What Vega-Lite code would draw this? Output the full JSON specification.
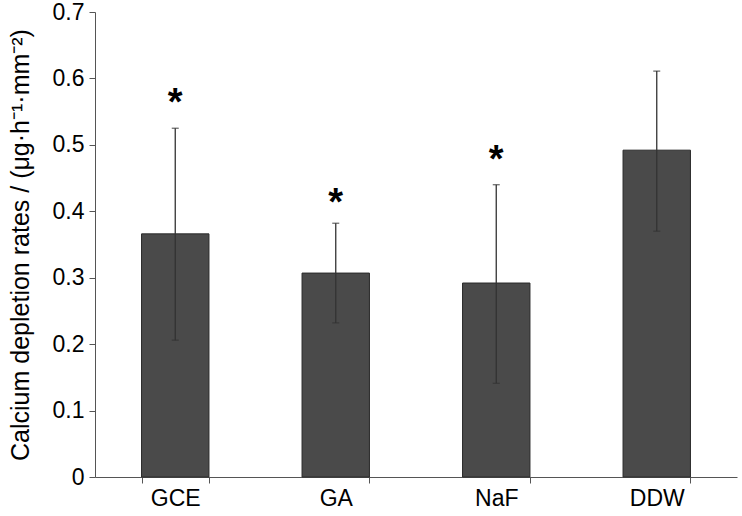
{
  "$schema": "https://vega.github.io/schema/vega-lite/v6.json",
  "autosize": "none",
  "padding": {"left": 95, "top": 12, "right": 5, "bottom": 39},
  "width": 642,
  "height": 465,
  "background": "white",
  "config": {
    "view": {"stroke": null},
    "font": "Liberation Sans",
    "axis": {"grid": false, "domainColor": "#555", "tickColor": "#555", "labelColor": "black", "titleColor": "black", "labelFont": "Liberation Sans", "titleFont": "Liberation Sans"}
  },
  "data": {
    "values": [
      {"group": "GCE", "mean": 0.366, "low": 0.206, "high": 0.525, "star": 0.575},
      {"group": "GA", "mean": 0.307, "low": 0.232, "high": 0.382, "star": 0.425},
      {"group": "NaF", "mean": 0.292, "low": 0.141, "high": 0.44, "star": 0.49},
      {"group": "DDW", "mean": 0.492, "low": 0.37, "high": 0.611, "star": null}
    ]
  },
  "encoding": {
    "x": {
      "field": "group", "type": "nominal", "sort": null,
      "scale": {"paddingInner": 0.58, "paddingOuter": 0.29},
      "axis": {"title": null, "labelAngle": 0, "labelFontSize": 23, "tickBand": "extent", "tickSize": 6, "labelPadding": 4, "domainColor": "#555"}
    }
  },
  "layer": [
    {
      "mark": {"type": "bar", "color": "#4a4a4a", "stroke": "#2a2a2a", "strokeWidth": 1},
      "encoding": {
        "y": {
          "field": "mean", "type": "quantitative",
          "scale": {"domain": [0, 0.7]},
          "axis": {"values": [0, 0.1, 0.2, 0.3, 0.4, 0.5, 0.6, 0.7], "format": "~g", "labelFontSize": 23, "tickSize": 6, "labelPadding": 5, "title": "Calcium depletion rates / (μg·h⁻¹·mm⁻²)", "titleFontSize": 25, "titleFontWeight": "normal", "titlePadding": 19}
        }
      }
    },
    {
      "mark": {"type": "rule", "color": "#333", "strokeWidth": 1.3},
      "encoding": {
        "y": {"field": "low", "type": "quantitative"},
        "y2": {"field": "high"}
      }
    },
    {
      "mark": {"type": "tick", "color": "#333", "thickness": 1.3, "size": 7},
      "encoding": {"y": {"field": "low", "type": "quantitative"}}
    },
    {
      "mark": {"type": "tick", "color": "#333", "thickness": 1.3, "size": 7},
      "encoding": {"y": {"field": "high", "type": "quantitative"}}
    },
    {
      "transform": [{"filter": "datum.star != null"}],
      "mark": {"type": "text", "text": "*", "fontSize": 38, "fontWeight": "bold", "baseline": "middle", "dy": 9, "color": "black"},
      "encoding": {"y": {"field": "star", "type": "quantitative"}}
    }
  ]
}
